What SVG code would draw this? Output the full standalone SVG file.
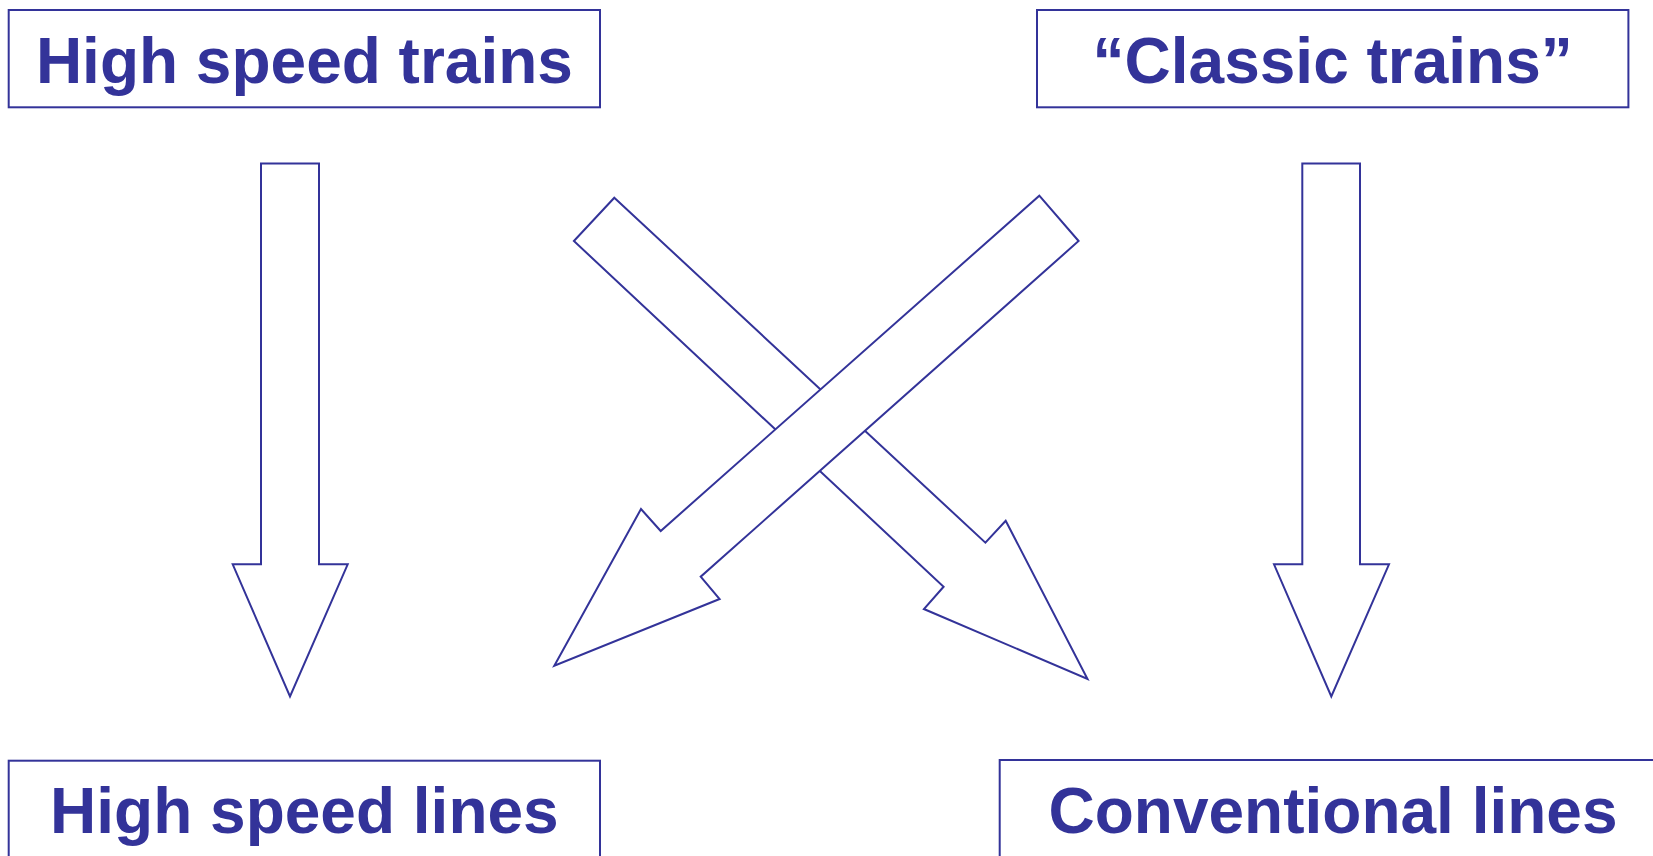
<svg xmlns="http://www.w3.org/2000/svg" width="1653" height="856" viewBox="0 0 1653 856">
<style>
.box{fill:#ffffff;stroke:#333399;stroke-width:2}
.arr{fill:#ffffff;stroke:#333399;stroke-width:2;stroke-linejoin:miter}
.lbl{font-family:"Liberation Sans",Arial,sans-serif;font-weight:bold;font-size:64px;fill:#333399;text-anchor:middle}
</style>
<rect width="1653" height="856" fill="#ffffff"/>
<g id="node-high-speed-trains">
<rect class="box" x="8.7" y="10" width="591.3" height="97.3"/>
<text class="lbl" x="304.4" y="82.7">High speed trains</text>
</g>
<g id="node-classic-trains">
<rect class="box" x="1037" y="10" width="591.4" height="97.3"/>
<text class="lbl" x="1332.7" y="82.7">“Classic trains”</text>
</g>
<g id="node-high-speed-lines">
<rect class="box" x="8.7" y="760.7" width="591.3" height="110"/>
<text class="lbl" x="304.4" y="833.3">High speed lines</text>
</g>
<g id="node-conventional-lines">
<rect class="box" x="999.7" y="760" width="666.6" height="110"/>
<text class="lbl" x="1333" y="833.3">Conventional lines</text>
</g>
<g id="connectors">
<polygon class="arr" points="261,163.6 319,163.6 319,564.3 347.7,564.3 290,696.4 232.7,564.3 261,564.3"/>
<polygon class="arr" points="1302.3,163.6 1360,163.6 1360,564.3 1389,564.3 1331.3,696.4 1274,564.3 1302.3,564.3"/>
<polygon class="arr" points="614.3,197.7 985.4,542.7 1005.7,520.7 1087.5,679 923.9,609 943.6,586.7 573.9,241"/>
<polygon class="arr" points="1039.3,195.7 1078.6,241 700.7,576.7 719.6,599 554.3,665.7 641,509 660.7,531"/>
</g>
</svg>
